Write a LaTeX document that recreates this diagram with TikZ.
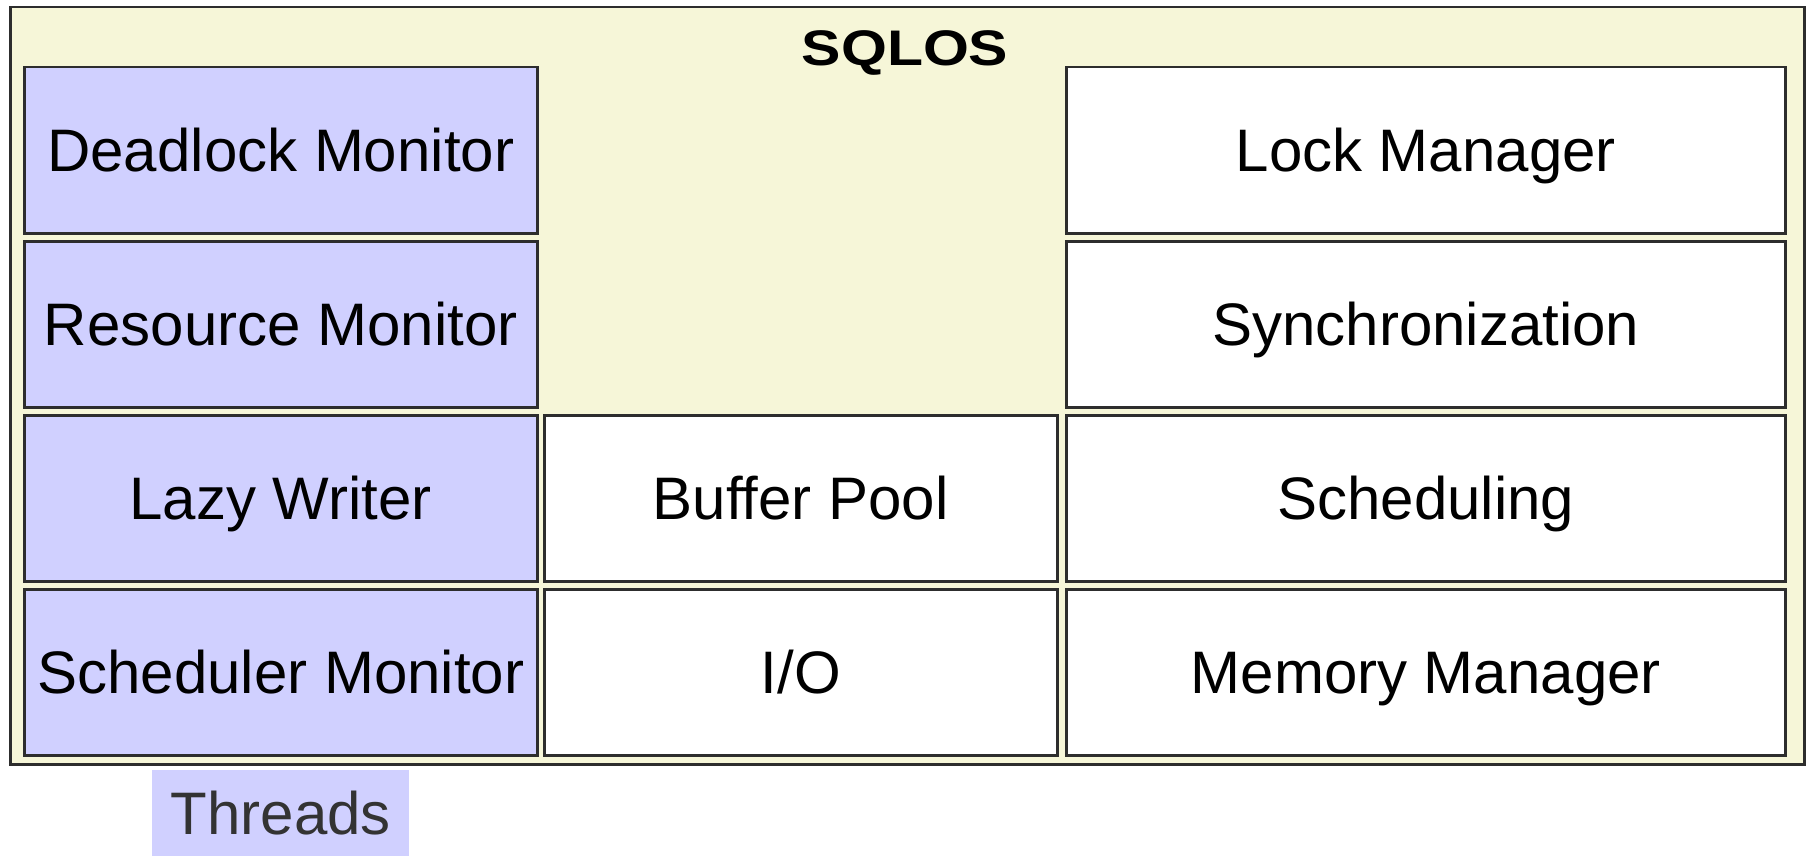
\documentclass[tikz,border=0pt]{standalone}
\usepackage{fontspec}
\setmainfont{Liberation Sans}
\definecolor{panelbg}{RGB}{246,246,216}
\definecolor{threadblue}{RGB}{208,208,255}
\definecolor{edgegray}{RGB}{45,45,45}
\definecolor{labelgray}{RGB}{51,51,51}
\begin{document}
\begin{tikzpicture}[x=1pt,y=-1pt,
  cell/.style={draw=edgegray, line width=2.5pt, anchor=north west, inner sep=0pt,
    minimum height=166pt, text height=43pt, text depth=0pt,
    font=\fontsize{60}{72}\selectfont, text=black},
  threadcell/.style={cell, fill=threadblue, minimum width=513pt},
  midcell/.style={cell, fill=white, minimum width=513pt},
  widecell/.style={cell, fill=white, minimum width=719pt}]
\useasboundingbox (0,0) rectangle (1807,856);
% SQLOS panel
\node[draw=edgegray, line width=2.5pt, fill=panelbg, anchor=north west, inner sep=0pt,
  minimum width=1794pt, minimum height=757pt] (sqlos) at (9,6) {};
\node[font=\bfseries\fontsize{50}{60}\selectfont, anchor=base] (title) at (905,66)
  {\scalebox{1.18}[1]{SQLOS}};
% thread-based components
\node[threadcell] (deadlock) at (23,66) {Deadlock Monitor};
\node[threadcell] (resource) at (23,240) {Resource Monitor};
\node[threadcell] (lazy) at (23,414) {Lazy Writer};
\node[threadcell] (schedmon) at (23,588) {Scheduler Monitor};
% middle column
\node[midcell] (buffer) at (543,414) {Buffer Pool};
\node[midcell] (io) at (543,588) {I/O};
% right column
\node[widecell] (lock) at (1065,66) {Lock Manager};
\node[widecell] (sync) at (1065,240) {Synchronization};
\node[widecell] (sched) at (1065,414) {Scheduling};
\node[widecell] (memory) at (1065,588) {Memory Manager};
% legend
\node[fill=threadblue, anchor=north west, inner sep=0pt, minimum width=257pt,
  minimum height=86pt, text height=43pt, text depth=0pt, text=labelgray,
  font=\fontsize{60}{72}\selectfont] (threads) at (152,770) {Threads};
\end{tikzpicture}
\end{document}
